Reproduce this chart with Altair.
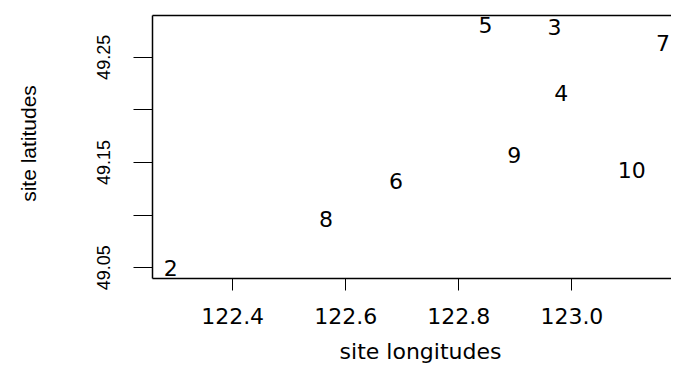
import altair as alt
import pandas as pd

sites = ["2", "3", "4", "5", "6", "7", "8", "9", "10"]
longitudes = [122.2915, 122.970, 122.982, 122.848, 122.690, 123.162, 122.566, 122.899, 123.107]
latitudes = [49.049, 49.278, 49.216, 49.280, 49.132, 49.263, 49.096, 49.157, 49.142]

x_ticks = [122.4, 122.6, 122.8, 123.0]
y_ticks = [49.05, 49.10, 49.15, 49.20, 49.25]
y_labels = ["49.05", "49.15", "49.25"]

df = pd.DataFrame({"site": sites, "lon": longitudes, "lat": latitudes})

label_list = "[" + ",".join("'" + s + "'" for s in y_labels) + "]"

xscale = alt.Scale(domain=[122.2583, 123.1762], nice=False, zero=False)
yscale = alt.Scale(domain=[49.0398, 49.2898], nice=False, zero=False)

yaxis = alt.Axis(values=y_ticks, title="site latitudes",
                 labelExpr="indexof(" + label_list + ", format(datum.value, '.2f')) >= 0 ? format(datum.value, '.2f') : ''",
                 grid=False, domain=True, domainColor="black", domainWidth=1.5,
                 tickSize=19, tickColor="black", tickWidth=1,
                 labelFont="Liberation Sans", labelFontSize=18, labelColor="black",
                 labelAngle=270, labelAlign="center", labelBaseline="alphabetic",
                 labelPadding=24, labelFlush=False, labelOverlap=False,
                 titleFont="Liberation Sans", titleFontSize=21, titleFontWeight="normal",
                 titleColor="black", titleAngle=270, titleAlign="center",
                 titleBaseline="alphabetic", titleX=-117, titleY=128)

texts = alt.Chart(df).mark_text(
    font="DejaVu Sans", fontSize=22, color="black", align="center", baseline="middle", dy=1
).encode(
    x=alt.X("lon:Q", scale=xscale,
            axis=alt.Axis(values=x_ticks, format=".1f", title="site longitudes",
                          grid=False, domain=True, domainColor="black", domainWidth=1.5,
                          tickSize=12, tickColor="black", tickWidth=1,
                          labelFont="DejaVu Sans", labelFontSize=22, labelColor="black",
                          labelBaseline="alphabetic", labelPadding=33, labelFlush=False,
                          titleFont="DejaVu Sans", titleFontSize=22, titleFontWeight="normal",
                          titleColor="black", titleBaseline="alphabetic", titleY=80, titleX=268)),
    y=alt.Y("lat:Q", scale=yscale, axis=yaxis),
    text="site:N",
)

top_frame = alt.Chart(df).mark_point(opacity=0).encode(
    x=alt.X("lon:Q", scale=xscale,
            axis=alt.Axis(orient="top", labels=False, ticks=False, title=None, grid=False,
                          domain=True, domainColor="black", domainWidth=1.5)),
    y=alt.Y("lat:Q", scale=yscale, axis=None),
)

chart = alt.layer(texts, top_frame).resolve_axis(x="independent", y="independent").properties(
    width=519, height=263,
    autosize=alt.AutoSizeParams(type="none"),
    padding={"left": 144, "top": 7, "right": 0, "bottom": 86},
).configure_view(
    strokeWidth=0
)

chart.save("out.html", embed_options={"renderer": "svg", "actions": False})
